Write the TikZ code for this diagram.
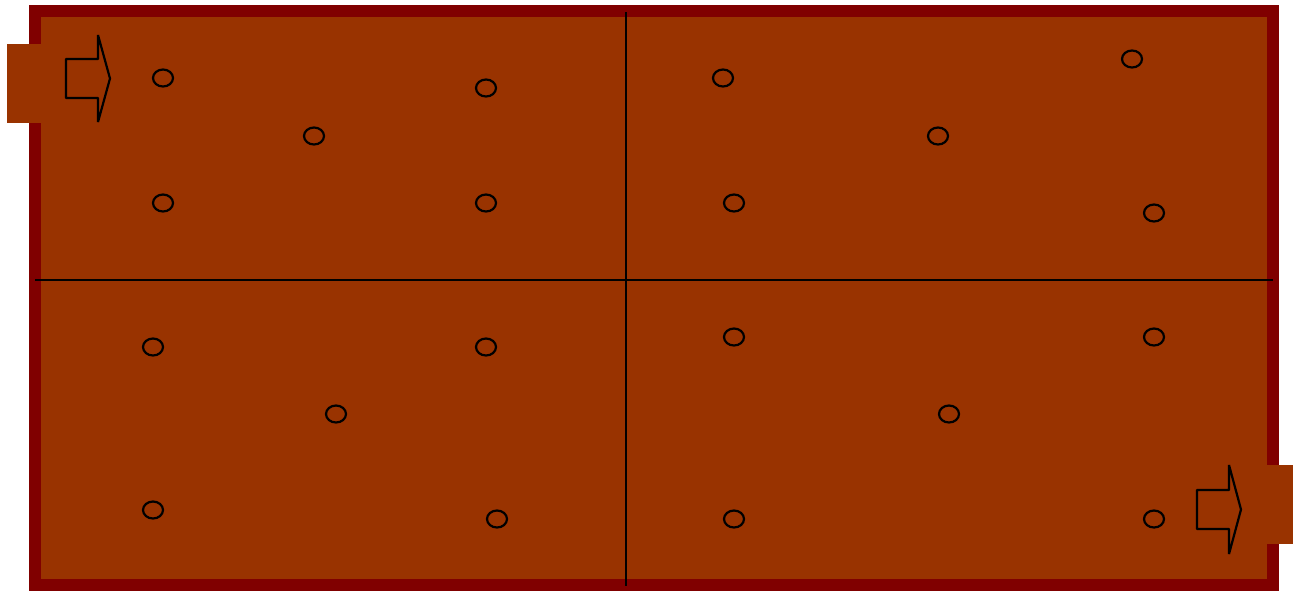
\documentclass[tikz,border=0pt]{standalone}
\definecolor{rust}{HTML}{993300}
\definecolor{maroonb}{HTML}{800000}
\tikzset{
  hole/.style={draw=black, line width=2.2pt},
  divider/.style={draw=black, line width=2.2pt},
  flowarrow/.style={draw=black, line width=2.2pt, fill=rust, line join=bevel}
}
\begin{document}
\begin{tikzpicture}[x=1pt,y=-1pt]
\useasboundingbox (0,0) rectangle (1293,590);
% tank
\draw[fill=rust, draw=maroonb, line width=12pt] (35,11) rectangle (1273,585);
% inlet and outlet stubs
\fill[rust] (7,44) rectangle (41,123);
\fill[rust] (1267,465) rectangle (1293,544);
% dividers
\coordinate (vt) at (626,12);
\coordinate (vb) at (626,586);
\coordinate (hl) at (35,280);
\coordinate (hr) at (1273,280);
\draw[divider] (vt) -- (vb);
\draw[divider] (hl) -- (hr);
% arrows
\draw[flowarrow] (66,59) -- (98,59) -- (98,35) -- (110,78.5) -- (98,122) -- (98,98) -- (66,98) -- cycle;
\draw[flowarrow] (1197,490) -- (1229,490) -- (1229,465) -- (1241,509.5) -- (1229,554) -- (1229,529) -- (1197,529) -- cycle;
% holes
\foreach \n/\x/\y in {a/163/78, b/486/88, c/314/136, d/163/203, e/486/203,
  f/723/78, g/1132/59, h/938/136, i/734/203, j/1154/213,
  k/153/347, l/486/347, m/336/414, n/153/510, o/497/519,
  p/734/337, q/1154/337, r/949/414, s/734/519, t/1154/519}
  \draw[hole] (\x,\y) ellipse [x radius=10, y radius=8.5];
\end{tikzpicture}
\end{document}
